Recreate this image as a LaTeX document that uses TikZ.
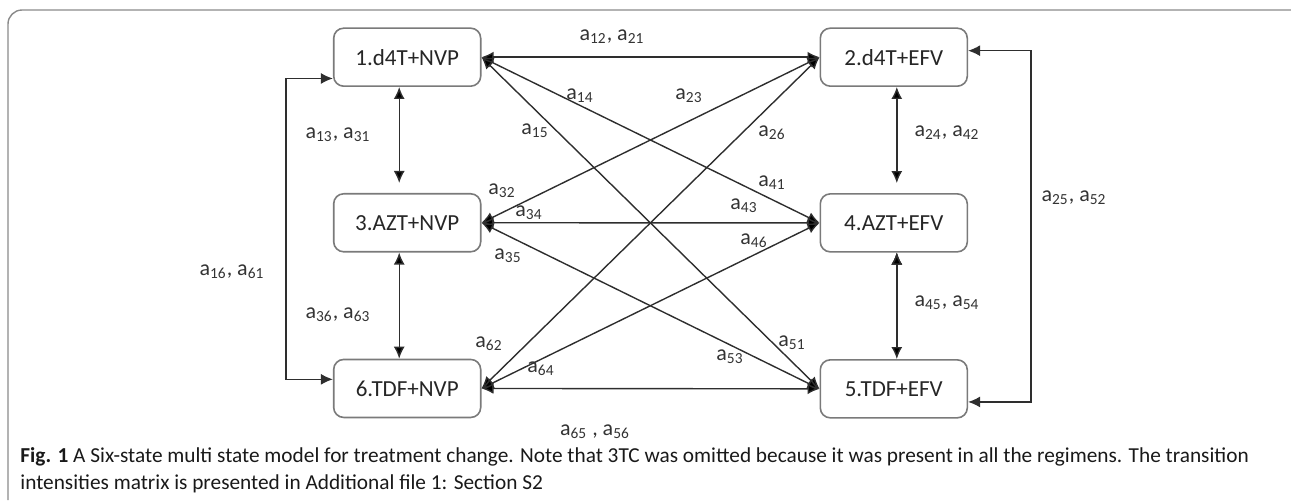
\documentclass[tikz,border=0pt]{standalone}
\usepackage{fontspec}
\setmainfont{Carlito}
\usetikzlibrary{matrix,arrows.meta}
\definecolor{boxgray}{HTML}{7A7A7A}
\definecolor{linegray}{HTML}{2E2E2E}
\definecolor{framegray}{HTML}{8A8A8A}

\tikzset{
  regimen/.style={draw=boxgray, line width=0.8pt, rounded corners=5pt,
    minimum width=73.5pt, minimum height=29pt, inner sep=0pt,
    font=\fontsize{11.5}{13}\selectfont, text=black!85},
  biarrow/.style={{Latex[length=6pt,width=5.5pt]}-{Latex[length=6pt,width=5.5pt]},
    line width=0.7pt, draw=linegray},
  rate/.style={font=\fontsize{11}{13}\selectfont, text=black!80, inner sep=0pt},
  captext/.style={font=\fontsize{10.65}{13}\selectfont, text=black!90,
    inner sep=0pt, anchor=base west}
}

\begin{document}
\begin{tikzpicture}[x=0.5pt,y=-0.5pt]
  \useasboundingbox (0,0) rectangle (1291,500);
  \draw[framegray, line width=0.7pt, rounded corners=7pt]
    (8,500) -- (8,10) -- (1291,10);
  \matrix (m) at (650.5,223) [matrix of nodes, nodes={regimen},
    row sep=53pt, column sep=169pt]{
        1.d4T+NVP & 2.d4T+EFV \\
        3.AZT+NVP & 4.AZT+EFV \\
        6.TDF+NVP & 5.TDF+EFV \\};
  \path[biarrow]
    (m-1-1.east) edge (m-1-2.west) edge (m-2-2.west) edge (m-3-2.west)
    (m-1-2.west) edge (m-2-1.east) edge (m-3-1.east)
    (m-2-1.east) edge (m-2-2.west) edge (m-3-2.west)
    (m-2-2.west) edge (m-3-1.east)
    (m-3-1.east) edge (m-3-2.west)
    ([xshift=-4pt]m-1-1.south) edge ([xshift=-4pt,yshift=5pt]m-2-1.north)
    ([xshift=-4pt]m-2-1.south) edge ([xshift=-4pt]m-3-1.north)
    ([xshift=1.5pt]m-1-2.south) edge ([xshift=1.5pt,yshift=5pt]m-2-2.north)
    ([xshift=1.5pt]m-2-2.south) edge ([xshift=1.5pt]m-3-2.north);
  % side loops 1-6 and 2-5
  \draw[biarrow] (m-1-1.196) -- ++(-47,0) |- (m-3-1.173);
  \draw[biarrow] (m-1-2.5) -- ++(63,0) |- (m-3-2.350);
  % intensities
  \node[rate] (r12) at (612,37)  {a\textsubscript{12}, a\textsubscript{21}};
  \node[rate] (r13) at (338,135) {a\textsubscript{13}, a\textsubscript{31}};
  \node[rate] (r36) at (338,315) {a\textsubscript{36}, a\textsubscript{63}};
  \node[rate] (r24) at (947,133) {a\textsubscript{24}, a\textsubscript{42}};
  \node[rate] (r45) at (947,303) {a\textsubscript{45}, a\textsubscript{54}};
  \node[rate] (r16) at (232,272) {a\textsubscript{16}, a\textsubscript{61}};
  \node[rate] (r25) at (1074,198) {a\textsubscript{25}, a\textsubscript{52}};
  \node[rate] (r65) at (595,432) {a\textsubscript{65} , a\textsubscript{56}};
  \node[rate] (r14) at (580,96)  {a\textsubscript{14}};
  \node[rate] (r23) at (689,96)  {a\textsubscript{23}};
  \node[rate] (r15) at (535,131) {a\textsubscript{15}};
  \node[rate] (r26) at (772,133) {a\textsubscript{26}};
  \node[rate] (r41) at (772,183) {a\textsubscript{41}};
  \node[rate] (r32) at (502,191) {a\textsubscript{32}};
  \node[rate] (r34) at (529,213) {a\textsubscript{34}};
  \node[rate] (r43) at (744,206) {a\textsubscript{43}};
  \node[rate] (r46) at (754,241) {a\textsubscript{46}};
  \node[rate] (r35) at (508,256) {a\textsubscript{35}};
  \node[rate] (r62) at (489,344) {a\textsubscript{62}};
  \node[rate] (r64) at (541,369) {a\textsubscript{64}};
  \node[rate] (r51) at (792,343) {a\textsubscript{51}};
  \node[rate] (r53) at (730,357) {a\textsubscript{53}};
  % caption, two lines
  \node[captext] (figcap) at (20,462)
    {\textbf{Fig. 1} A Six-state multi state model for treatment change. Note that 3TC was omitted because it was present in all the regimens. The transition};
  \node[captext] (figcap2) at (20,489)
    {intensities matrix is presented in Additional file 1: Section S2};
\end{tikzpicture}
\end{document}
